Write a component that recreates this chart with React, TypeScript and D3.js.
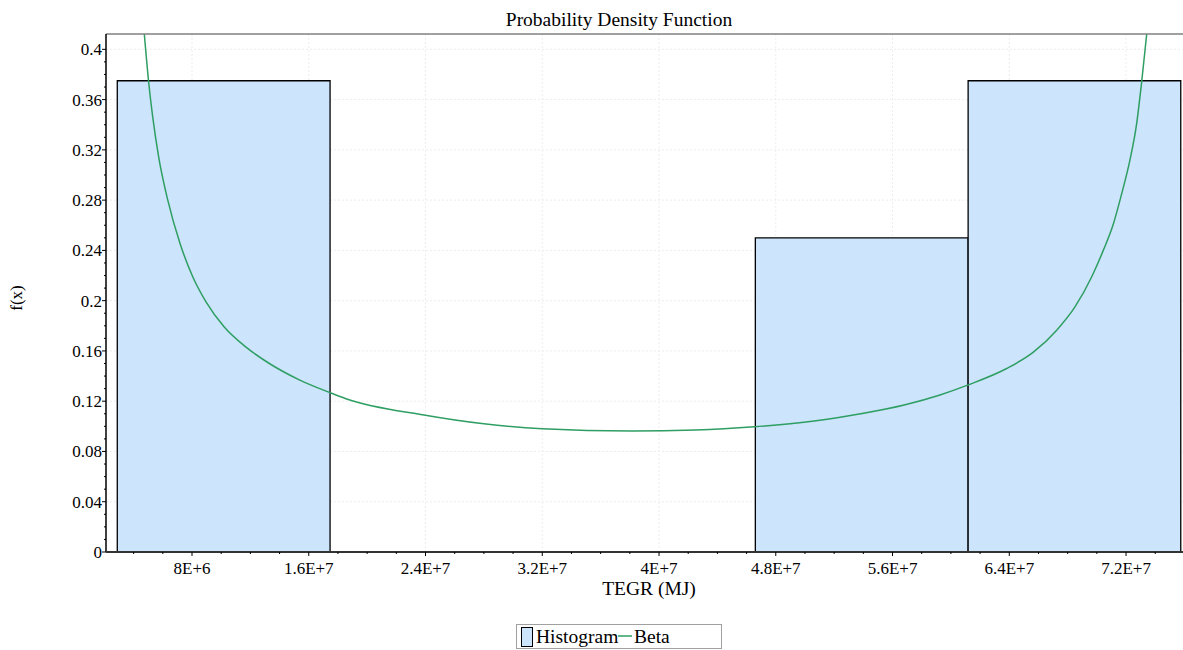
import React from 'react';
import * as d3 from 'd3';

// histogram bins (TEGR in millions of MJ) and relative frequencies
const binEdges = [2.88, 17.46, 32.03, 46.6, 61.18, 75.75];
const binFreq = [0.375, 0, 0, 0.25, 0.375];

// fitted Beta curve
const betaX = [4.73, 5.03, 5.31, 5.72, 6.34, 7.18, 8.05, 8.96, 10.21, 11.7, 13.3, 15.35, 17.41, 18.55, 23.89, 28.0, 32.0, 38.15, 42.5, 46.54, 50.5, 53.81, 56.8, 59.25, 61.19, 63.82, 65.65, 67.25, 68.5, 69.65, 70.44, 71.13, 71.7, 72.27, 72.73, 73.07, 73.42];
const betaY = [0.4125, 0.374, 0.346, 0.314, 0.28, 0.2455, 0.219, 0.199, 0.179, 0.163, 0.15, 0.137, 0.127, 0.122, 0.109, 0.102, 0.098, 0.0962, 0.097, 0.0996, 0.104, 0.11, 0.117, 0.125, 0.133, 0.146, 0.159, 0.1765, 0.195, 0.219, 0.24, 0.261, 0.285, 0.312, 0.341, 0.374, 0.4125];

const xTicks = [8, 16, 24, 32, 40, 48, 56, 64, 72];
const xTickLabels = ['8E+6', '1.6E+7', '2.4E+7', '3.2E+7', '4E+7', '4.8E+7', '5.6E+7', '6.4E+7', '7.2E+7'];
const yTicks = [0, 0.04, 0.08, 0.12, 0.16, 0.2, 0.24, 0.28, 0.32, 0.36, 0.4];
const yTickLabels = ['0', '0.04', '0.08', '0.12', '0.16', '0.2', '0.24', '0.28', '0.32', '0.36', '0.4'];

const W = 1183;
const H = 650;
const left = 106, right = 1192, top = 34, bottom = 552;
const font = '"Liberation Serif", "Times New Roman", serif';

const App: React.FC = () => {
  const x = d3.scaleLinear().domain([2.107, 76.52]).range([left, right]);
  const y = d3.scaleLinear().domain([0, 0.4122]).range([bottom, top]);

  const xMinor = d3.range(4, 76, 2).filter(v => !xTicks.includes(v));
  const yMinor = d3.range(0, 0.41, 0.01).map(v => +v.toFixed(2)).filter(v => !yTicks.includes(v));

  const line = d3.line<number>()
    .x((_, i) => x(betaX[i]))
    .y(d => y(d))
    .curve(d3.curveMonotoneX);

  const bars = binFreq.map((f, i) => {
    const p = d3.path();
    const x0 = x(binEdges[i]), x1 = x(binEdges[i + 1]);
    p.moveTo(x0, y(0));
    p.lineTo(x0, y(f));
    p.lineTo(x1, y(f));
    p.lineTo(x1, y(0));
    p.closePath();
    return p.toString();
  });

  return (
    <div style={{ position: 'absolute', left: 0, top: 0 }}>
      <svg width={W} height={H} style={{ display: 'block', background: '#fff' }} fontFamily={font}>
        <defs>
          <clipPath id="plot">
            <rect x={left} y={top} width={right - left} height={bottom - top} />
          </clipPath>
        </defs>

        <text x={619} y={26} textAnchor="middle" fontSize={19.5}>Probability Density Function</text>

        {/* grid */}
        {xTicks.map(t => (
          <line key={'gx' + t} x1={x(t)} x2={x(t)} y1={top} y2={bottom} stroke="#ededed" strokeDasharray="2,2" />
        ))}
        {yTicks.map(t => (
          <line key={'gy' + t} x1={left} x2={right} y1={y(t)} y2={y(t)} stroke="#ededed" strokeDasharray="2,2" />
        ))}

        {/* histogram */}
        <g clipPath="url(#plot)">
          {bars.map((d, i) => (
            <path key={'b' + i} d={d} fill="#cce4fc" stroke="#000" strokeWidth={1.3} />
          ))}
          <path d={line(betaY) || ''} fill="none" stroke="#2e9e62" strokeWidth={1.5} />
        </g>

        {/* frame */}
        <line x1={left} x2={right} y1={top} y2={top} stroke="#808080" strokeWidth={1.5} />
        <line x1={left} x2={left} y1={top} y2={bottom} stroke="#000" strokeWidth={1.5} />
        <line x1={left} x2={right} y1={bottom} y2={bottom} stroke="#333" strokeWidth={2} />

        {/* y axis */}
        {yTicks.map((t, i) => (
          <g key={'yt' + t}>
            <line x1={left - 4} x2={left} y1={y(t)} y2={y(t)} stroke="#000" />
            <text x={102} y={y(t)} dy="0.35em" textAnchor="end" fontSize={17}>{yTickLabels[i]}</text>
          </g>
        ))}
        {yMinor.map(t => (
          <line key={'ym' + t} x1={left - 2} x2={left} y1={y(t)} y2={y(t)} stroke="#000" />
        ))}
        <text transform="translate(22,298) rotate(-90)" textAnchor="middle" fontSize={17}>f(x)</text>

        {/* x axis */}
        {xTicks.map((t, i) => (
          <g key={'xt' + t}>
            <line x1={x(t)} x2={x(t)} y1={bottom} y2={bottom + 4} stroke="#000" />
            <text x={x(t)} y={574} textAnchor="middle" fontSize={17}>{xTickLabels[i]}</text>
          </g>
        ))}
        {xMinor.map(t => (
          <line key={'xm' + t} x1={x(t)} x2={x(t)} y1={bottom} y2={bottom + 2} stroke="#000" />
        ))}
        <text x={(left + right) / 2} y={595} textAnchor="middle" fontSize={19.5}>TEGR (MJ)</text>

        {/* legend */}
        <rect x={516.5} y={624.5} width={205} height={24} fill="#fff" stroke="#a0a0a0" />
        <rect x={521.5} y={627.5} width={11} height={19} fill="#cce4fc" stroke="#000" />
        <text x={536} y={643} fontSize={19.5}>Histogram</text>
        <line x1={618} x2={632} y1={636} y2={636} stroke="#2e9e62" strokeWidth={1.5} />
        <text x={634} y={643} fontSize={19.5}>Beta</text>
      </svg>
    </div>
  );
};

export default App;
